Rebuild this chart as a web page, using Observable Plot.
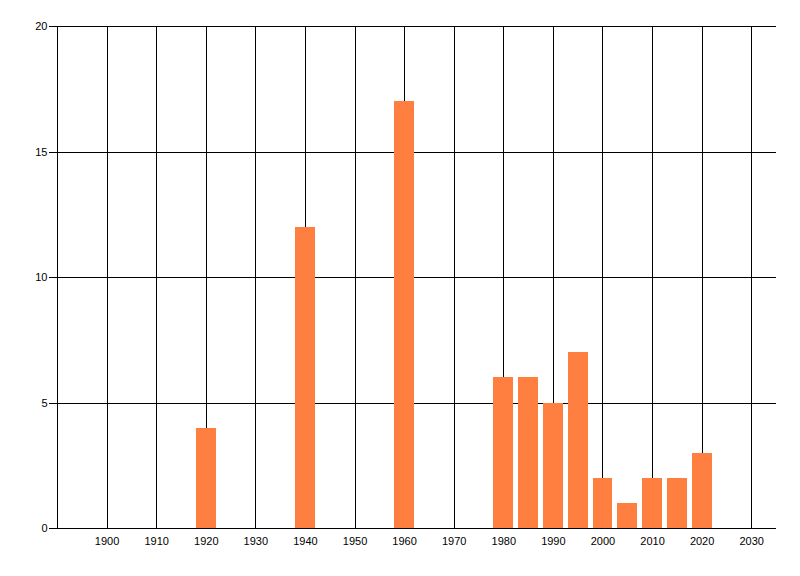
<!DOCTYPE html>
<html>
<head>
<meta charset="utf-8">
<script src="https://cdn.jsdelivr.net/npm/d3@7"></script>
<script src="https://cdn.jsdelivr.net/npm/@observablehq/plot@0.6"></script>
<style>
  html, body { margin: 0; padding: 0; background: #fff; }
  #chart svg { display: block; }
  #chart svg line, #chart svg path, #chart svg rect { shape-rendering: crispEdges; }
</style>
</head>
<body>
<div id="chart"></div>
<script>
const years = [1920, 1940, 1960, 1980, 1985, 1990, 1995, 2000, 2005, 2010, 2015, 2020];
const counts = [4, 12, 17, 6, 6, 5, 7, 2, 1, 2, 2, 3];
const xTicks = [1900, 1910, 1920, 1930, 1940, 1950, 1960, 1970, 1980, 1990, 2000, 2010, 2020, 2030];
const yTicks = [0, 5, 10, 15, 20];
const barHalfWidth = 2;

const data = years.map((y, i) => ({year: y, count: counts[i]}));

const chart = Plot.plot({
  width: 800,
  height: 576,
  marginLeft: 57,
  marginTop: 26,
  marginRight: 24,
  marginBottom: 48,
  style: {fontFamily: "'Liberation Sans', Arial, sans-serif", fontSize: "11px", color: "#000", background: "#fff"},
  x: {domain: [1890, 2035], ticks: xTicks, tickFormat: d => String(d), tickSize: 0, tickPadding: 9, label: null},
  y: {domain: [0, 20], ticks: yTicks, tickSize: 8, tickPadding: 2, label: null},
  marks: [
    Plot.ruleX(xTicks, {stroke: "#000", strokeWidth: 1}),
    Plot.ruleY(yTicks.filter(t => t > 0), {stroke: "#000", strokeWidth: 1}),
    Plot.rectY(data, {x1: d => d.year - barHalfWidth, x2: d => d.year + barHalfWidth, y: "count", fill: "#FF7F40"}),
    Plot.ruleX([1890], {stroke: "#000", strokeWidth: 1}),
    Plot.ruleY([0], {stroke: "#000", strokeWidth: 1})
  ]
});
document.getElementById("chart").appendChild(chart);
</script>
</body>
</html>
